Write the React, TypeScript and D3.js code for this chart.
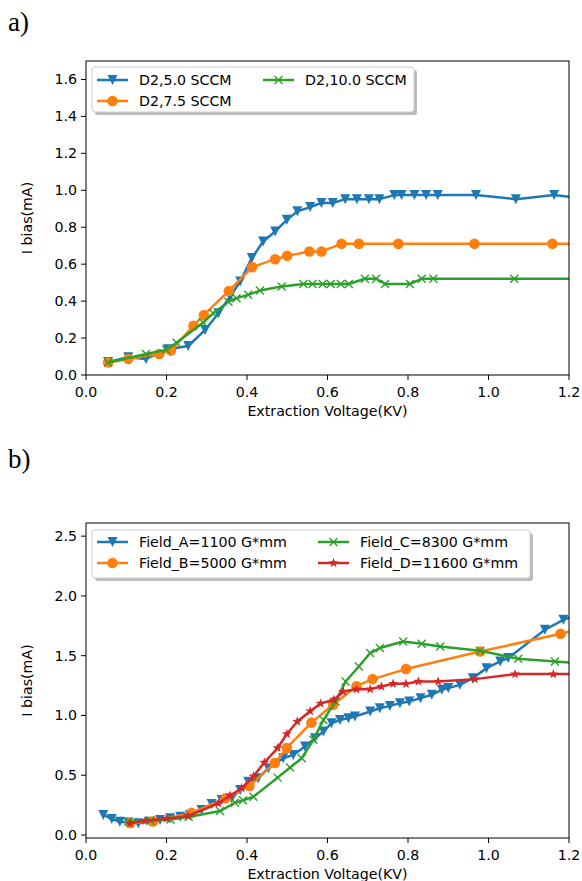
import React from "react";
import * as d3 from "d3";

// tick values
const xTicks = [0, 0.2, 0.4, 0.6, 0.8, 1.0, 1.2];
const yTicksA = [0, 0.2, 0.4, 0.6, 0.8, 1.0, 1.2, 1.4, 1.6];
const yTicksB = [0, 0.5, 1.0, 1.5, 2.0, 2.5];

// panel a) - D2 flow
const voltD5 = [0.055, 0.105, 0.149, 0.203, 0.254, 0.296, 0.329, 0.358, 0.383, 0.412, 0.44, 0.47, 0.499, 0.525, 0.557, 0.585, 0.613, 0.644, 0.673, 0.703, 0.729, 0.766, 0.784, 0.816, 0.845, 0.874, 0.969, 1.068, 1.163, 1.26];
const biasD5 = [0.07, 0.096, 0.087, 0.139, 0.157, 0.244, 0.334, 0.425, 0.506, 0.633, 0.723, 0.777, 0.84, 0.886, 0.909, 0.931, 0.931, 0.952, 0.952, 0.952, 0.952, 0.974, 0.974, 0.974, 0.974, 0.974, 0.974, 0.952, 0.974, 0.95];

const voltD75 = [0.055, 0.105, 0.182, 0.211, 0.267, 0.293, 0.355, 0.413, 0.47, 0.5, 0.555, 0.585, 0.635, 0.678, 0.776, 0.965, 1.159, 1.26];
const biasD75 = [0.068, 0.087, 0.114, 0.132, 0.266, 0.325, 0.455, 0.584, 0.627, 0.645, 0.669, 0.669, 0.71, 0.71, 0.71, 0.71, 0.71, 0.71];

const voltD10 = [0.055, 0.149, 0.199, 0.225, 0.291, 0.316, 0.354, 0.374, 0.403, 0.432, 0.486, 0.54, 0.563, 0.588, 0.608, 0.633, 0.653, 0.693, 0.721, 0.743, 0.805, 0.834, 0.863, 1.064, 1.26];
const biasD10 = [0.068, 0.114, 0.136, 0.175, 0.284, 0.334, 0.397, 0.416, 0.434, 0.457, 0.479, 0.493, 0.493, 0.493, 0.493, 0.493, 0.493, 0.521, 0.521, 0.493, 0.493, 0.521, 0.521, 0.521, 0.521];

// panel b) - magnetic field
const voltFA = [0.043, 0.064, 0.084, 0.105, 0.13, 0.159, 0.184, 0.209, 0.234, 0.258, 0.287, 0.312, 0.337, 0.362, 0.383, 0.403, 0.428, 0.453, 0.49, 0.515, 0.544, 0.569, 0.59, 0.61, 0.631, 0.652, 0.668, 0.706, 0.73, 0.755, 0.78, 0.803, 0.831, 0.859, 0.884, 0.9, 0.929, 0.961, 0.995, 1.029, 1.049, 1.14, 1.186, 1.26];
const biasFA = [0.168, 0.134, 0.111, 0.105, 0.098, 0.111, 0.126, 0.14, 0.153, 0.168, 0.209, 0.26, 0.293, 0.307, 0.377, 0.446, 0.475, 0.559, 0.642, 0.67, 0.74, 0.81, 0.865, 0.935, 0.963, 0.977, 0.991, 1.033, 1.06, 1.08, 1.103, 1.117, 1.145, 1.173, 1.215, 1.229, 1.256, 1.312, 1.396, 1.452, 1.48, 1.717, 1.8, 1.9];

const voltFB = [0.11, 0.167, 0.262, 0.347, 0.406, 0.469, 0.499, 0.56, 0.614, 0.672, 0.712, 0.795, 0.979, 1.179, 1.26];
const biasFB = [0.1, 0.114, 0.185, 0.307, 0.41, 0.603, 0.728, 0.94, 1.089, 1.245, 1.304, 1.388, 1.535, 1.683, 1.75];

const voltFC = [0.105, 0.16, 0.21, 0.255, 0.333, 0.37, 0.39, 0.416, 0.476, 0.507, 0.536, 0.565, 0.59, 0.62, 0.645, 0.678, 0.706, 0.73, 0.788, 0.834, 0.88, 0.979, 1.074, 1.165, 1.26];
const biasFC = [0.11, 0.12, 0.13, 0.15, 0.2, 0.27, 0.29, 0.32, 0.48, 0.565, 0.642, 0.796, 0.963, 1.117, 1.284, 1.41, 1.522, 1.564, 1.619, 1.6, 1.577, 1.541, 1.474, 1.452, 1.43];

const voltFD = [0.109, 0.147, 0.2, 0.254, 0.329, 0.358, 0.387, 0.416, 0.443, 0.476, 0.499, 0.525, 0.557, 0.583, 0.616, 0.639, 0.672, 0.706, 0.734, 0.763, 0.795, 0.826, 0.875, 0.966, 1.066, 1.161, 1.26];
const biasFD = [0.098, 0.12, 0.137, 0.159, 0.265, 0.33, 0.391, 0.491, 0.606, 0.728, 0.845, 0.949, 1.036, 1.1, 1.131, 1.2, 1.22, 1.22, 1.242, 1.265, 1.265, 1.284, 1.284, 1.304, 1.346, 1.346, 1.346];

const BLUE = "#1f77b4";
const ORANGE = "#ff7f0e";
const GREEN = "#2ca02c";
const RED = "#d62728";
const FONT = "DejaVu Sans, sans-serif";
const FS = 14.2;

type Marker = "tri" | "circle" | "x" | "star";
interface Series { label: string; color: string; marker: Marker; xs: number[]; ys: number[] }

const starPath = (() => {
  const pts: string[] = [];
  for (let i = 0; i < 10; i++) {
    const r = i % 2 === 0 ? 5.2 : 2.1;
    const a = -Math.PI / 2 + (i * Math.PI) / 5;
    pts.push(`${(r * Math.cos(a)).toFixed(2)},${(r * Math.sin(a)).toFixed(2)}`);
  }
  return "M" + pts.join("L") + "Z";
})();

function MarkerShape({ type, color, cx, cy }: { type: Marker; color: string; cx: number; cy: number }) {
  const t = `translate(${cx},${cy})`;
  if (type === "tri") return <path transform={t} d="M-5,-5L5,-5L0,5Z" fill={color} />;
  if (type === "circle") return <circle cx={cx} cy={cy} r={5.3} fill={color} />;
  if (type === "star") return <path transform={t} d={starPath} fill={color} />;
  return <path transform={t} d="M-4,-4L4,4M-4,4L4,-4" stroke={color} strokeWidth={1.4} fill="none" />;
}

function Panel({ id, top, bottom, yDomain, yTicks, series, legend }: {
  id: string; top: number; bottom: number; yDomain: [number, number]; yTicks: number[];
  series: Series[];
  legend: { x: number; y: number; w: number; h: number; cols: number[]; rows: number[] };
}) {
  const left = 86;
  const right = 569;
  const x = d3.scaleLinear().domain([0, 1.2]).range([left, right]);
  const y = d3.scaleLinear().domain(yDomain).range([bottom, top]);
  const fmt = d3.format(".1f");
  return (
    <g>
      <defs>
        <clipPath id={id}>
          <rect x={left} y={top} width={right - left} height={bottom - top} />
        </clipPath>
      </defs>
      <g clipPath={`url(#${id})`}>
        {series.map((s) => {
          const pts = s.xs.map((v, i) => [x(v), y(s.ys[i])] as [number, number]);
          return (
            <g key={s.label}>
              <path d={d3.line()(pts) || ""} fill="none" stroke={s.color} strokeWidth={2.5} strokeLinejoin="round" />
              {pts.map((p, i) => <MarkerShape key={i} type={s.marker} color={s.color} cx={p[0]} cy={p[1]} />)}
            </g>
          );
        })}
      </g>
      <rect x={left} y={top} width={right - left} height={bottom - top} fill="none" stroke="#000" strokeWidth={1} />
      {xTicks.map((t) => (
        <g key={t}>
          <line x1={x(t)} x2={x(t)} y1={bottom} y2={bottom + 5} stroke="#000" />
          <text x={x(t)} y={bottom + 22} textAnchor="middle" fontFamily={FONT} fontSize={FS}>{fmt(t)}</text>
        </g>
      ))}
      {yTicks.map((t) => (
        <g key={t}>
          <line x1={left - 5} x2={left} y1={y(t)} y2={y(t)} stroke="#000" />
          <text x={left - 9} y={y(t) + 5} textAnchor="end" fontFamily={FONT} fontSize={FS}>{fmt(t)}</text>
        </g>
      ))}
      <text x={(left + right) / 2} y={bottom + 41} textAnchor="middle" fontFamily={FONT} fontSize={FS}>Extraction Voltage(KV)</text>
      <text transform={`translate(32,${(top + bottom) / 2}) rotate(-90)`} textAnchor="middle" fontFamily={FONT} fontSize={FS}>I bias(mA)</text>
      <rect x={legend.x + 3} y={legend.y + 3} width={legend.w} height={legend.h} rx={3} fill="#777" opacity={0.5} />
      <rect x={legend.x} y={legend.y} width={legend.w} height={legend.h} rx={3} fill="#fff" stroke="#ccc" />
      {series.map((s, i) => {
        const hx = legend.cols[Math.floor(i / legend.rows.length)];
        const hy = legend.rows[i % legend.rows.length];
        return (
          <g key={s.label}>
            <line x1={hx} x2={hx + 31} y1={hy} y2={hy} stroke={s.color} strokeWidth={2.5} />
            <MarkerShape type={s.marker} color={s.color} cx={hx + 15.5} cy={hy} />
            <text x={hx + 42} y={hy + 5} fontFamily={FONT} fontSize={FS}>{s.label}</text>
          </g>
        );
      })}
    </g>
  );
}

export default function App() {
  const seriesA: Series[] = [
    { label: "D2,5.0 SCCM", color: BLUE, marker: "tri", xs: voltD5, ys: biasD5 },
    { label: "D2,7.5 SCCM", color: ORANGE, marker: "circle", xs: voltD75, ys: biasD75 },
    { label: "D2,10.0 SCCM", color: GREEN, marker: "x", xs: voltD10, ys: biasD10 },
  ];
  const seriesB: Series[] = [
    { label: "Field_A=1100 G*mm", color: BLUE, marker: "tri", xs: voltFA, ys: biasFA },
    { label: "Field_B=5000 G*mm", color: ORANGE, marker: "circle", xs: voltFB, ys: biasFB },
    { label: "Field_C=8300 G*mm", color: GREEN, marker: "x", xs: voltFC, ys: biasFC },
    { label: "Field_D=11600 G*mm", color: RED, marker: "star", xs: voltFD, ys: biasFD },
  ];
  return (
    <svg width={582} height={881} style={{ position: "absolute", left: 0, top: 0, background: "#fff" }}>
      <text x={8} y={31} fontFamily="Liberation Serif, serif" fontSize={27}>a)</text>
      <text x={8} y={468} fontFamily="Liberation Serif, serif" fontSize={27}>b)</text>
      <Panel id="clipA" top={61} bottom={375} yDomain={[0, 1.7]} yTicks={yTicksA} series={seriesA}
        legend={{ x: 92, y: 67, w: 322, h: 45, cols: [97, 263], rows: [80, 101] }} />
      <Panel id="clipB" top={523} bottom={838} yDomain={[-0.025, 2.61]} yTicks={yTicksB} series={seriesB}
        legend={{ x: 92, y: 530, w: 438, h: 48, cols: [97, 318], rows: [542, 563] }} />
    </svg>
  );
}
